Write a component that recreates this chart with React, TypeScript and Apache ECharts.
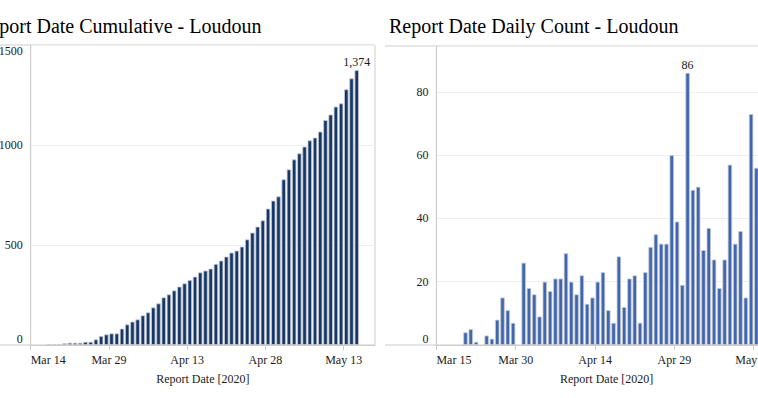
import React, { useEffect, useRef } from "react";
import * as echarts from "echarts";

// ---- Data ----
// Cumulative counts, one per day starting Mar 14, 2020 (ends May 15)
const cumulativeValues = [
  0, 0, 0, 2, 2, 2, 8, 11, 11, 11, 16, 16, 28, 45, 53, 58, 58, 82, 103, 117,
  128, 148, 163, 188, 208, 238, 253, 273, 292, 308, 325, 342, 363, 372, 382,
  405, 422, 442, 462, 472, 492, 528, 562, 592, 623, 682, 722, 743, 828, 878,
  928, 958, 992, 1023, 1037, 1067, 1125, 1152, 1192, 1208, 1278, 1333, 1374,
];
// Daily counts, one per day starting Mar 15, 2020 (ends May 15)
const dailyValues = [
  0, 0, 0, 0, 0, 4, 5, 1, 0, 3, 2, 8, 15, 11, 7, 0, 26, 18, 16, 9, 20, 17, 21,
  21, 29, 20, 16, 22, 13, 15, 20, 23, 11, 7, 28, 12, 21, 22, 7, 23, 31, 35, 32,
  32, 60, 39, 19, 86, 49, 50, 30, 37, 27, 18, 27, 57, 32, 36, 15, 73, 56, 41,
];
const cumulativeTickLabels = ["Mar 14", "Mar 29", "Apr 13", "Apr 28", "May 13"];
const dailyTickLabels = ["Mar 15", "Mar 30", "Apr 14", "Apr 29", "May 14"];
const cumulativeTitle = "Report Date Cumulative - Loudoun";
const dailyTitle = "Report Date Daily Count - Loudoun";
const xAxisName = "Report Date [2020]";

const FONT = "'Liberation Serif', 'Times New Roman', serif";
const AXIS_GRAY = "#cccccc";
const GRID_GRAY = "#efefef";
const TEXT = "#1a1a1a";

function barData(values: number[], labelMax: boolean) {
  const maxV = Math.max(...values);
  const maxIdx = values.indexOf(maxV);
  return values.map((v, i) => {
    if (v === 0) return [i + 0.5, null];
    if (labelMax && i === maxIdx) {
      return {
        value: [i + 0.5, v],
        label: {
          show: true,
          position: "top",
          distance: 2,
          formatter: () => v.toLocaleString("en-US"),
          fontFamily: FONT,
          fontSize: 12,
          color: TEXT,
        },
      };
    }
    return [i + 0.5, v];
  });
}

function xAxisCfg(gridIndex: number, max: number, labels: string[]) {
  return {
    type: "value",
    gridIndex,
    min: 0,
    max,
    interval: 15,
    name: xAxisName,
    nameLocation: "middle",
    nameGap: 28,
    nameTextStyle: { fontFamily: FONT, fontSize: 12, color: TEXT },
    axisLine: { show: true, lineStyle: { color: AXIS_GRAY } },
    axisTick: { show: true, length: 5, lineStyle: { color: AXIS_GRAY } },
    splitLine: { show: false },
    axisLabel: {
      fontFamily: FONT,
      fontSize: 12,
      color: TEXT,
      margin: 9,
      showMaxLabel: false,
      alignMinLabel: "left",
      formatter: (v: number) => {
        const k = Math.round(v / 15);
        return Math.abs(v - k * 15) < 1e-6 ? labels[k] ?? "" : "";
      },
    },
  };
}

function yAxisCfg(gridIndex: number, max: number, interval: number) {
  return {
    type: "value",
    gridIndex,
    min: 0,
    max,
    interval,
    axisLine: { show: true, lineStyle: { color: AXIS_GRAY } },
    axisTick: { show: false },
    splitLine: { show: true, lineStyle: { color: GRID_GRAY, width: 1 } },
    axisLabel: {
      fontFamily: FONT,
      fontSize: 12,
      color: TEXT,
      margin: 8,
      showMaxLabel: max % interval === 0,
      verticalAlignMinLabel: "bottom",
      verticalAlignMaxLabel: "top",
      formatter: (v: number) => String(v),
    },
  };
}

export default function App() {
  const ref = useRef<HTMLDivElement>(null);
  useEffect(() => {
    if (!ref.current) return;
    const chart = echarts.init(ref.current, null, { renderer: "svg" });
    const leftGrid = { left: 30.7, top: 45, width: 344.3, height: 300 };
    const rightGrid = { left: 436.4, top: 46, width: 340.6, height: 299 };
    chart.setOption({
      animation: false,
      backgroundColor: "#ffffff",
      grid: [
        { ...leftGrid, show: true, borderColor: AXIS_GRAY, borderWidth: 1, containLabel: false, outerBoundsMode: "none" },
        { ...rightGrid, show: true, borderColor: AXIS_GRAY, borderWidth: 1, containLabel: false, outerBoundsMode: "none" },
      ],
      xAxis: [
        xAxisCfg(0, 66, cumulativeTickLabels),
        xAxisCfg(1, 64.4, dailyTickLabels),
      ],
      yAxis: [yAxisCfg(0, 1500, 500), yAxisCfg(1, 94.5, 20)],
      series: [
        {
          type: "bar",
          xAxisIndex: 0,
          yAxisIndex: 0,
          barWidth: 4.4,
          data: barData(cumulativeValues, true),
          itemStyle: { color: "#15386b", borderColor: "#c9c9c9", borderWidth: 0.8 },
        },
        {
          type: "bar",
          xAxisIndex: 1,
          yAxisIndex: 1,
          barWidth: 4.4,
          data: barData(dailyValues, true),
          itemStyle: { color: "#3f67b1", borderColor: "#c9c9c9", borderWidth: 0.8 },
        },
      ],
      graphic: [
        {
          type: "text",
          x: -23,
          y: 26,
          style: { text: cumulativeTitle, font: `20px ${FONT}`, fill: "#000", verticalAlign: "middle" },
        },
        {
          type: "text",
          x: 389,
          y: 26,
          style: { text: dailyTitle, font: `20px ${FONT}`, fill: "#000", verticalAlign: "middle" },
        },
        { type: "line", shape: { x1: 0, y1: 45, x2: 30.7, y2: 45 }, style: { stroke: AXIS_GRAY, lineWidth: 1 } },
        { type: "line", shape: { x1: 0, y1: 345, x2: 30.7, y2: 345 }, style: { stroke: AXIS_GRAY, lineWidth: 1 } },
        { type: "line", shape: { x1: 385, y1: 46, x2: 436.4, y2: 46 }, style: { stroke: AXIS_GRAY, lineWidth: 1 } },
        { type: "line", shape: { x1: 385, y1: 345, x2: 436.4, y2: 345 }, style: { stroke: AXIS_GRAY, lineWidth: 1 } },
      ],
    });
    return () => chart.dispose();
  }, []);
  return (
    <div
      ref={ref}
      style={{ position: "fixed", left: 0, top: 0, width: 800, height: 398, background: "#fff" }}
    />
  );
}
